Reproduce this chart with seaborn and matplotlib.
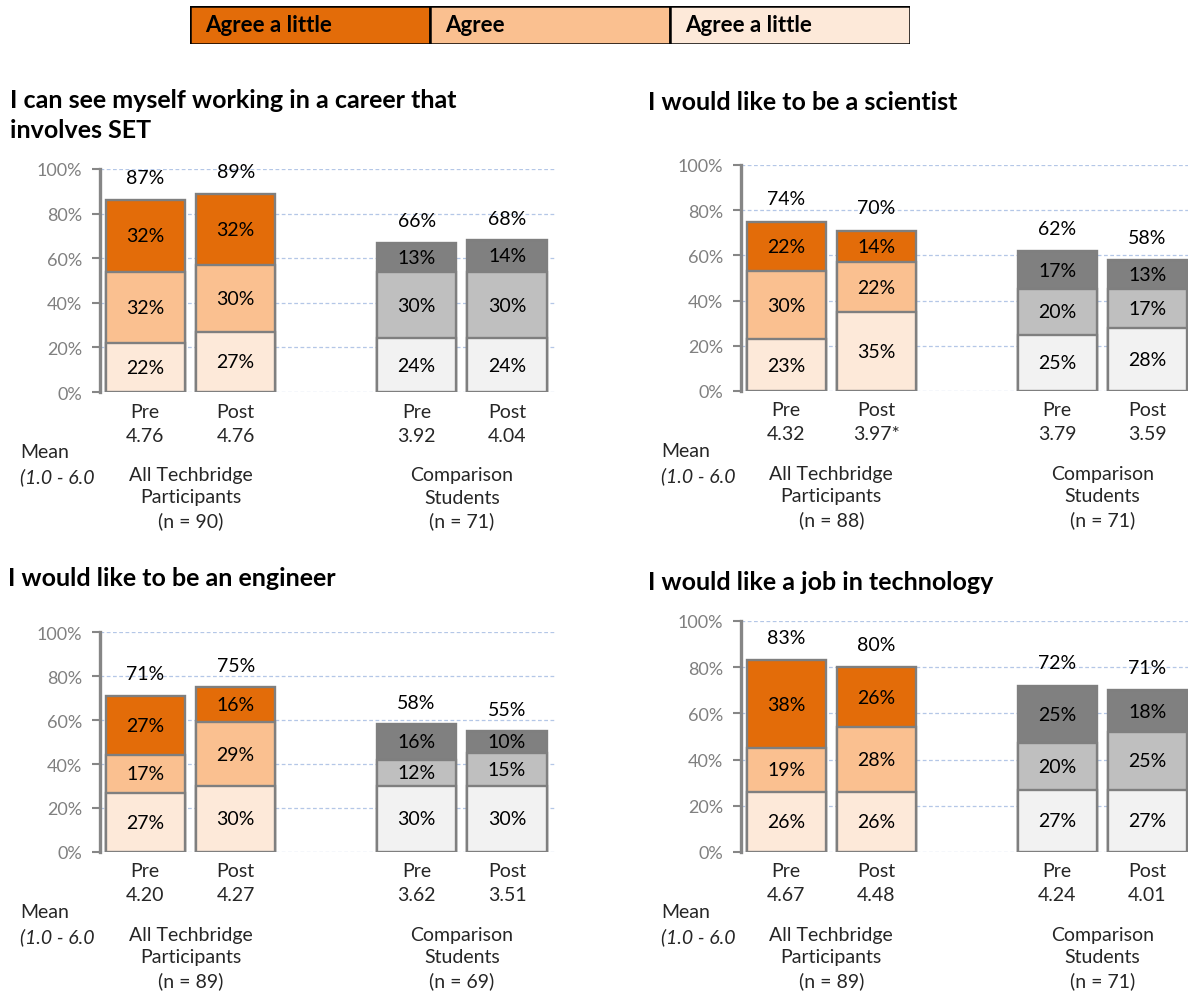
import matplotlib
matplotlib.use("Agg")
import matplotlib.pyplot as plt
import numpy as np
import pandas as pd
import seaborn as sns

# ---- data -------------------------------------------------------------
bar_keys = ["tb_pre", "tb_post", "cmp_pre", "cmp_post"]
bar_names = ["Pre", "Post", "Pre", "Post"]
group_names = [["All Techbridge", "Participants"], ["Comparison", "Students"]]
legend_labels = ["Agree a little", "Agree", "Agree a little"]

career_title = ["I can see myself working in a career that", "involves SET"]
career_lower = [22, 27, 24, 24]
career_middle = [32, 30, 30, 30]
career_upper = [32, 32, 13, 14]
career_total = [87, 89, 66, 68]
career_mean = ["4.76", "4.76", "3.92", "4.04"]
career_n = [90, 71]

scientist_title = ["I would like to be a scientist"]
scientist_lower = [23, 35, 25, 28]
scientist_middle = [30, 22, 20, 17]
scientist_upper = [22, 14, 17, 13]
scientist_total = [74, 70, 62, 58]
scientist_mean = ["4.32", "3.97*", "3.79", "3.59"]
scientist_n = [88, 71]

engineer_title = ["I would like to be an engineer"]
engineer_lower = [27, 30, 30, 30]
engineer_middle = [17, 29, 12, 15]
engineer_upper = [27, 16, 16, 10]
engineer_total = [71, 75, 58, 55]
engineer_mean = ["4.20", "4.27", "3.62", "3.51"]
engineer_n = [89, 69]

technology_title = ["I would like a job in technology"]
technology_lower = [26, 26, 27, 27]
technology_middle = [19, 28, 20, 25]
technology_upper = [38, 26, 25, 18]
technology_total = [83, 80, 72, 71]
technology_mean = ["4.67", "4.48", "4.24", "4.01"]
technology_n = [89, 71]

# ---- style ------------------------------------------------------------
ORANGE = ["#FDE9D9", "#FAC090", "#E36C09"]
GRAYS = ["#F2F2F2", "#BFBFBF", "#808080"]
EDGE = "#7F7F7F"
AXIS_GRAY = "#868686"
GRID = "#B4C7E7"

sns.set_theme(style="white")
plt.rcParams["font.family"] = ["Lato", "DejaVu Sans"]

W, H = 1188, 995
fig = plt.figure(figsize=(W / 100, H / 100), dpi=100)


def px_axes(left, top, right, bottom):
    return fig.add_axes([left / W, 1 - bottom / H, (right - left) / W, (bottom - top) / H])


LABEL_FS = 14
TICK_FS = 13
TITLE_FS = 18
KEY_FS = 16


def draw_panel(ax, lower, middle, upper, totals, means, ns, x_right):
    order = ["tb_pre", "tb_post", "gap", "cmp_pre", "cmp_post"]
    df = pd.DataFrame({"bar": bar_keys, "lower": lower, "middle": middle, "upper": upper})
    df["c1"] = df["lower"]
    df["c2"] = df["lower"] + df["middle"]
    df["c3"] = df["c2"] + df["upper"]

    # stacked look: tallest cumulative layer first, shorter ones drawn on top
    for col, level in [("c3", 2), ("c2", 1), ("c1", 0)]:
        pal = {k: (ORANGE[level] if k.startswith("tb") else GRAYS[level]) for k in bar_keys}
        sns.barplot(data=df, x="bar", y=col, hue="bar", order=order, hue_order=bar_keys,
                    palette=pal, width=0.875, dodge=False, legend=False, saturation=1,
                    edgecolor=EDGE, linewidth=1.7, ax=ax, zorder=3)

    xpos = [order.index(k) for k in bar_keys]
    for i, x in enumerate(xpos):
        lo, c2, c3 = df.loc[i, "c1"], df.loc[i, "c2"], df.loc[i, "c3"]
        for y0, y1, v in [(0, lo, lower[i]), (lo, c2, middle[i]), (c2, c3, upper[i])]:
            ax.text(x, (y0 + y1) / 2, f"{v}%", ha="center", va="center",
                    fontsize=LABEL_FS, color="black", zorder=5)
        ax.text(x, c3 + 10, f"{totals[i]}%", ha="center", va="center",
                fontsize=LABEL_FS, color="black", zorder=5, clip_on=False)
        ax.annotate(bar_names[i], xy=(x, 0), xycoords="data", xytext=(0, -19),
                    textcoords="offset pixels", ha="center", va="center",
                    fontsize=LABEL_FS, annotation_clip=False)
        ax.annotate(means[i], xy=(x, 0), xycoords="data", xytext=(0, -43),
                    textcoords="offset pixels", ha="center", va="center",
                    fontsize=LABEL_FS, annotation_clip=False)

    for gx, names, n in [(0.5, group_names[0], ns[0]), (3.5, group_names[1], ns[1])]:
        for line, dy in zip(names + [f"(n = {n})"], [-83, -105, -128]):
            ax.annotate(line, xy=(gx, 0), xycoords="data", xytext=(0, dy),
                        textcoords="offset pixels", ha="center", va="center",
                        fontsize=LABEL_FS, annotation_clip=False)

    ax.annotate("Mean", xy=(0, 0), xycoords="axes fraction", xytext=(-80, -60),
                textcoords="offset pixels", ha="left", va="center", fontsize=LABEL_FS,
                annotation_clip=False)
    ax.annotate("(1.0 - 6.0", xy=(0, 0), xycoords="axes fraction", xytext=(-80, -84),
                textcoords="offset pixels", ha="left", va="center", fontsize=LABEL_FS,
                style="italic", annotation_clip=False)

    ax.set_xlim(-0.5, x_right)
    ax.set_ylim(0, 100)
    ax.set_xticks([])
    ax.set_xlabel("")
    ax.set_ylabel("")
    ax.set_yticks(np.arange(0, 101, 20))
    ax.set_yticklabels([f"{v}%" for v in range(0, 101, 20)])
    ax.tick_params(axis="y", left=True, direction="out", length=6, width=1.5,
                   color=AXIS_GRAY, labelcolor="#808080", labelsize=TICK_FS, pad=7)
    ax.yaxis.grid(True, linestyle=(0, (3, 2)), color=GRID, linewidth=0.9, zorder=0)
    ax.set_axisbelow(True)
    for side in ["top", "right", "bottom"]:
        ax.spines[side].set_visible(False)
    ax.spines["left"].set_color(AXIS_GRAY)
    ax.spines["left"].set_linewidth(2.4)
    ax.spines["left"].set_zorder(6)
    ax.patch.set_alpha(0)


panels = [
    (px_axes(100, 170, 555, 393), career_title, career_lower, career_middle, career_upper,
     career_total, career_mean, career_n, 4.53, (10, 100)),
    (px_axes(741, 166, 1188, 392), scientist_title, scientist_lower, scientist_middle,
     scientist_upper, scientist_total, scientist_mean, scientist_n, 4.45, (648, 103)),
    (px_axes(100, 633, 555, 853), engineer_title, engineer_lower, engineer_middle,
     engineer_upper, engineer_total, engineer_mean, engineer_n, 4.53, (8, 578)),
    (px_axes(741, 622, 1188, 853), technology_title, technology_lower, technology_middle,
     technology_upper, technology_total, technology_mean, technology_n, 4.45, (648, 582)),
]

for ax, title, lo, mid, up, tot, mean, n, xr, (tx, ty) in panels:
    draw_panel(ax, lo, mid, up, tot, mean, n, xr)
    for k, line in enumerate(title):
        fig.text(tx / W, 1 - (ty + 31 * k) / H, line, ha="left", va="center",
                 fontsize=TITLE_FS, fontweight="bold", color="black")

# ---- colour key across the top ------------------------------------------
leg = px_axes(190, 7, 910, 45)
leg.bar(np.arange(3), np.ones(3), width=1, color=[ORANGE[2], ORANGE[1], ORANGE[0]],
        edgecolor="black", linewidth=1.8)
for i, lab in enumerate(legend_labels):
    leg.text(i - 0.5 + 15 / 240, 0.5, lab, ha="left", va="center", fontsize=KEY_FS,
             fontweight="bold", color="black")
leg.set_xlim(-0.5, 2.5)
leg.set_ylim(0, 1)
leg.axis("off")

fig.savefig("out.png", dpi=100)
